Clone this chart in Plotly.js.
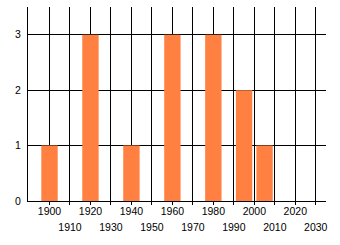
<!DOCTYPE html>
<html>
<head>
<meta charset="utf-8">
<script src="https://cdn.plot.ly/plotly-3.0.1.min.js"></script>
<style>
html,body{margin:0;padding:0;background:#fff;}
#chart{width:340px;height:245px;}
</style>
</head>
<body>
<div id="chart"></div>
<script>
var years = [1900, 1920, 1940, 1960, 1980, 1995, 2005];
var counts = [1, 3, 1, 3, 3, 2, 1];
var tickRow1 = [1900, 1920, 1940, 1960, 1980, 2000, 2020];
var tickRow2 = [1910, 1930, 1950, 1970, 1990, 2010, 2030];
var yTicks = [0, 1, 2, 3];

var font = {family: 'Liberation Sans, Arial, sans-serif', size: 10.5, color: '#000'};

var trace = {
  type: 'bar',
  x: years,
  y: counts,
  width: 8,
  marker: {color: '#FF8040', line: {width: 0}},
  hoverinfo: 'none'
};
var ghost = {
  type: 'scatter', mode: 'markers',
  x: [tickRow2[0]], y: [0], xaxis: 'x2', yaxis: 'y',
  marker: {opacity: 0}, hoverinfo: 'none', showlegend: false
};

var xr = [1889.5, 2035];
var layout = {
  width: 340, height: 245,
  margin: {l: 28, r: 14, t: 7, b: 44, pad: 0},
  paper_bgcolor: '#fff', plot_bgcolor: '#fff',
  showlegend: false,
  font: font,
  xaxis: {
    range: xr, tickmode: 'array', tickvals: tickRow1, ticktext: tickRow1.map(String),
    showgrid: true, gridcolor: '#000', gridwidth: 1,
    ticks: 'outside', ticklen: 3, tickcolor: '#000', tickwidth: 1,
    ticklabelstandoff: -3,
    showline: true, linecolor: '#000', linewidth: 1,
    zeroline: false, tickfont: font, fixedrange: true
  },
  xaxis2: {
    range: xr, overlaying: 'x', side: 'bottom', anchor: 'y',
    tickmode: 'array', tickvals: tickRow2, ticktext: tickRow2.map(String),
    showgrid: true, gridcolor: '#000', gridwidth: 1,
    ticks: 'outside', ticklen: 3, tickcolor: '#000', tickwidth: 1,
    ticklabelstandoff: 13,
    showline: false, zeroline: false, tickfont: font, fixedrange: true
  },
  yaxis: {
    range: [0, 3.5], tickmode: 'array', tickvals: yTicks, ticktext: yTicks.map(String),
    showgrid: true, gridcolor: '#000', gridwidth: 1,
    showline: true, linecolor: '#000', linewidth: 1,
    ticks: '', zeroline: false, tickfont: font, fixedrange: true,
    ticklabelstandoff: 4
  }
};

Plotly.newPlot('chart', [trace, ghost], layout, {staticPlot: true, displayModeBar: false});
</script>
</body>
</html>
